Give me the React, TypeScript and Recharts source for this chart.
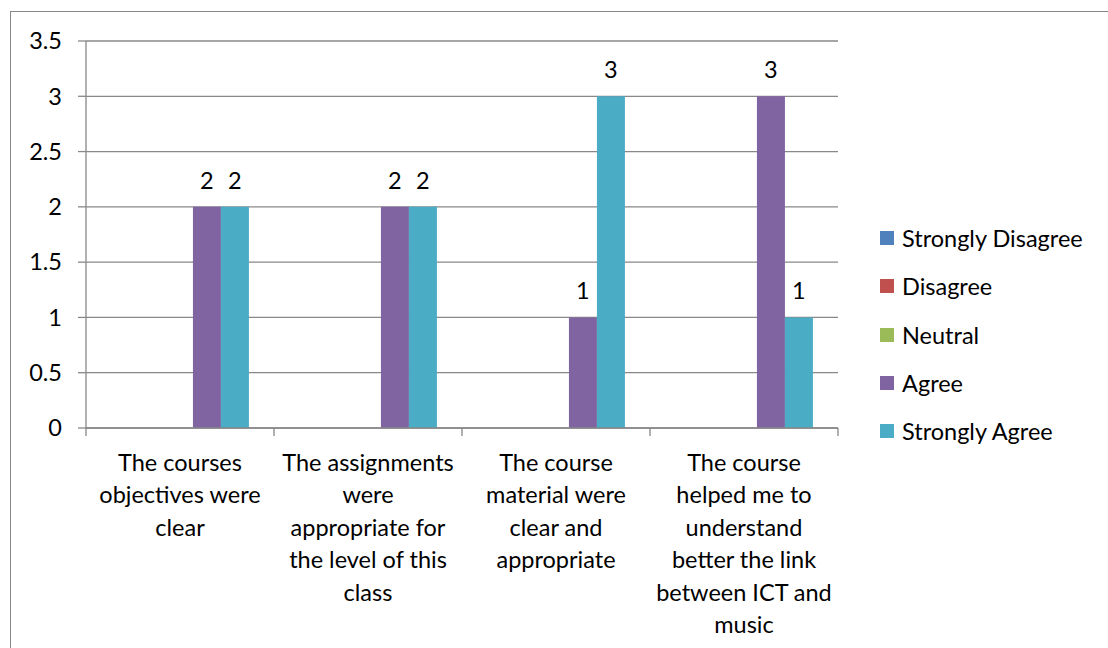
import { Bar, BarChart, CartesianGrid, LabelList, XAxis, YAxis } from "recharts";

const categories = [
  "The courses objectives were clear",
  "The assignments were appropriate for the level of this class",
  "The course material were clear and appropriate",
  "The course helped me to understand better the link between ICT and music",
];
const tickLines = [
  ["The courses", "objectives were", "clear"],
  ["The assignments", "were", "appropriate for", "the level of this", "class"],
  ["The course", "material were", "clear and", "appropriate"],
  ["The course", "helped me to", "understand", "better the link", "between ICT and", "music"],
];
const stronglyDisagree = [0, 0, 0, 0];
const disagree = [0, 0, 0, 0];
const neutral = [0, 0, 0, 0];
const agree = [2, 2, 1, 3];
const stronglyAgree = [2, 2, 3, 1];
const yTicks = [0, 0.5, 1, 1.5, 2, 2.5, 3, 3.5];

const series = [
  { key: "sd", name: "Strongly Disagree", color: "#4F81BD" },
  { key: "d", name: "Disagree", color: "#C0504D" },
  { key: "n", name: "Neutral", color: "#9BBB59" },
  { key: "a", name: "Agree", color: "#8064A2" },
  { key: "sa", name: "Strongly Agree", color: "#4BACC6" },
];

const data = categories.map((c, i) => ({
  name: c,
  sd: stronglyDisagree[i],
  d: disagree[i],
  n: neutral[i],
  a: agree[i],
  sa: stronglyAgree[i],
}));

const FONT = "Lato, 'Open Sans', sans-serif";
const AXIS = { stroke: "#888", strokeWidth: 1.3 };

// tick marks sit on the category boundaries, like Excel
const CatTick = (props: any) => {
  const { x, y, index, payload } = props;
  const lines = tickLines[index] || [];
  const half = payload?.offset ?? 0;
  const top = y - 10;
  return (
    <g>
      <line x1={x - half} x2={x - half} y1={top} y2={top + 8} stroke="#888" strokeWidth={1.3} />
      {index === categories.length - 1 && (
        <line x1={x + half} x2={x + half} y1={top} y2={top + 8} stroke="#888" strokeWidth={1.3} />
      )}
      <text x={x} y={y} textAnchor="middle" fontSize={23.5} fontFamily={FONT} fill="#000">
        {lines.map((l, i) => (
          <tspan key={i} x={x} dy={i === 0 ? 33 : 32.4}>
            {l}
          </tspan>
        ))}
      </text>
    </g>
  );
};

export default function App() {
  return (
    <div style={{ position: "absolute", left: 0, top: 0, width: 1108, height: 648, background: "#fff", overflow: "hidden" }}>
      <div style={{ position: "absolute", left: 10, top: 11, width: 1110, height: 660, border: "1.5px solid #888", boxSizing: "border-box" }} />
      <BarChart
        width={1108}
        height={648}
        data={data}
        margin={{ top: 41, right: 270, bottom: 20, left: 10 }}
        barCategoryGap="12.2%"
        barGap={0}
      >
        <CartesianGrid vertical={false} stroke="#888" strokeWidth={1.3} />
        <XAxis
          dataKey="name"
          interval={0}
          height={200}
          tick={<CatTick />}
          axisLine={AXIS}
          tickLine={{ stroke: "none" }}
          tickSize={8}
          scale="band"
        />
        <YAxis
          width={76}
          domain={[0, 3.5]}
          ticks={yTicks}
          interval={0}
          tick={{ fontSize: 23.5, fontFamily: FONT, fill: "#000" }}
          axisLine={AXIS}
          tickLine={AXIS}
          tickSize={8}
          tickMargin={16}
        />
        {series.map((s) => (
          <Bar key={s.key} dataKey={s.key} name={s.name} fill={s.color} isAnimationActive={false}>
            {(s.key === "a" || s.key === "sa") && (
              <LabelList dataKey={s.key} position="top" offset={18} fontSize={23.5} fontFamily={FONT} fill="#000" />
            )}
          </Bar>
        ))}
      </BarChart>
      <div style={{ position: "absolute", left: 880, top: 214, fontFamily: FONT, fontSize: 23.5, color: "#000" }}>
        {series.map((s) => (
          <div key={s.key} style={{ display: "flex", alignItems: "center", height: 48.3, whiteSpace: "nowrap" }}>
            <span style={{ width: 14, height: 14, background: s.color, marginRight: 8, display: "inline-block" }} />
            {s.name}
          </div>
        ))}
      </div>
    </div>
  );
}
